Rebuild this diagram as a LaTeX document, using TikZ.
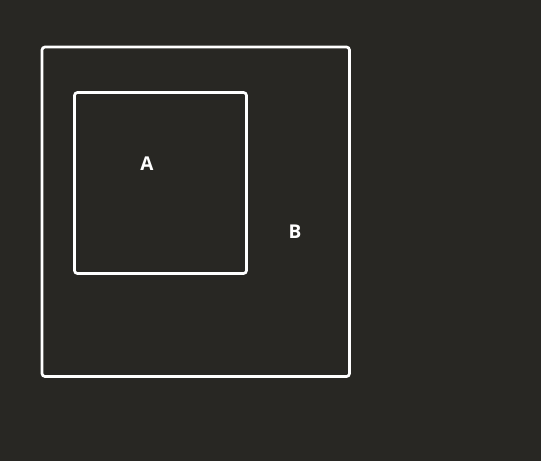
\documentclass[tikz,border=0pt]{standalone}
\usepackage{fontspec}
\setmainfont{Open Sans}
\definecolor{bg}{RGB}{40,39,35}
\begin{document}
\begin{tikzpicture}[x=1pt,y=-1pt,
  box/.style={draw=white,line width=2.7pt,rounded corners=3pt},
  lbl/.style={text=white,font=\fontsize{19}{21}\selectfont\bfseries,inner sep=0pt}]
\fill[bg] (0,0) rectangle (541,461);
\useasboundingbox (0,0) rectangle (541,461);
\draw[box] (42,47) rectangle (349.5,376.5);
\draw[box] (74.5,92.5) rectangle (246.5,273.5);
\node[lbl] (A) at (147,164) {A};
\node[lbl] (B) at (295,232) {B};
\end{tikzpicture}
\end{document}
